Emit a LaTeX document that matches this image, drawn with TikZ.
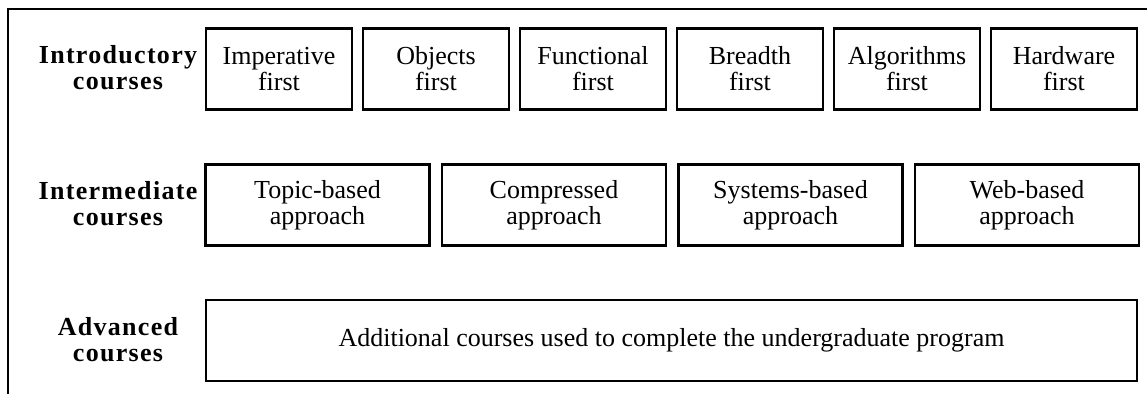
\documentclass[tikz,border=0pt]{standalone}
\usepackage{fontspec}
\setmainfont{Liberation Serif}
\newfontfamily\rowfont{Liberation Serif}[LetterSpace=5]
\usepackage{tikz}
\usetikzlibrary{positioning}

\begin{document}
\begin{tikzpicture}[x=1pt, y=-1pt,
    course/.style={draw, line width=2.2pt, minimum height=81pt, inner sep=0pt,
        align=center, font=\fontsize{26}{26}\selectfont},
    rowname/.style={align=center, font=\rowfont\bfseries\fontsize{26}{26}\selectfont}]
        \useasboundingbox (0,0) rectangle (1147,394);

        % Frame
        \draw[line width=2.2pt] (1147,9) -- (8,9) -- (8,394);

        % Introductory courses
        \node[rowname] (intro) at (118,68) {Introductory\\courses};
        \node[course, minimum width=146pt] (imp) at (279,69) {Imperative\\first};
        \node[course, minimum width=146pt] (obj) at (436,69) {Objects\\first};
        \node[course, minimum width=146pt] (fun) at (593,69) {Functional\\first};
        \node[course, minimum width=146pt] (bre) at (750,69) {Breadth\\first};
        \node[course, minimum width=146pt] (alg) at (907,69) {Algorithms\\first};
        \node[course, minimum width=146pt] (hw) at (1064,69) {Hardware\\first};

        % Intermediate courses
        \node[rowname] (inter) at (118,204) {Intermediate\\courses};
        \node[course, minimum width=224pt] (topic) at (317.5,205) {Topic-based\\approach};
        \node[course, minimum width=224pt] (comp) at (554,205) {Compressed\\approach};
        \node[course, minimum width=224pt] (sys) at (790.5,205) {Systems-based\\approach};
        \node[course, minimum width=224pt] (web) at (1027,205) {Web-based\\approach};

        % Advanced courses
        \node[rowname] (adv) at (118,340) {Advanced\\courses};
        \node[course, minimum width=931pt] (add) at (671.5,340.5)
            {Additional courses used to complete the undergraduate program};

    \end{tikzpicture}
\end{document}
